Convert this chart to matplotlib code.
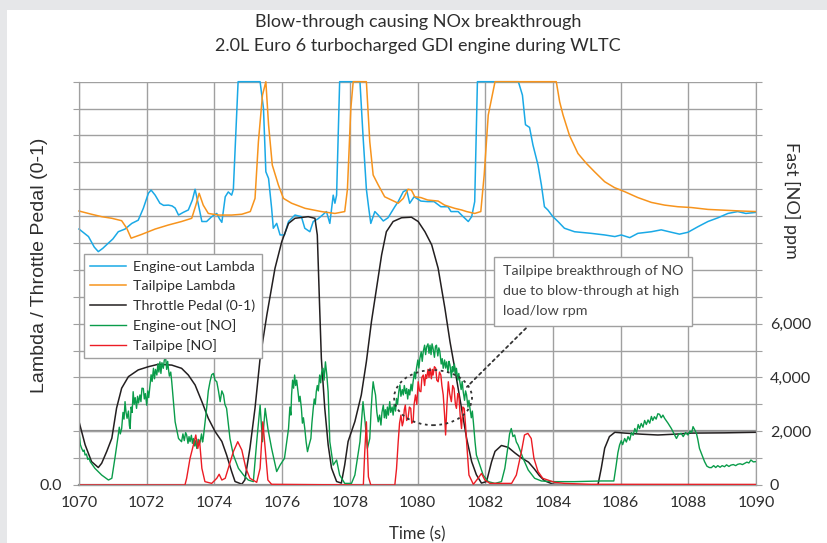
import matplotlib
matplotlib.use('Agg')
import matplotlib.pyplot as plt
from matplotlib.patches import Ellipse, Rectangle

# Engine-out lambda (left axis)
t_eo_lambda = [1070.00, 1070.28, 1070.45, 1070.57, 1070.70, 1070.87, 1071.00, 1071.16, 1071.36, 1071.56,
               1071.75, 1071.90, 1072.05, 1072.13, 1072.25, 1072.39, 1072.50, 1072.64, 1072.75, 1072.84,
               1072.94, 1073.08, 1073.23, 1073.35, 1073.43, 1073.53, 1073.63, 1073.77, 1073.92, 1074.07,
               1074.15, 1074.22, 1074.32, 1074.41, 1074.51, 1074.56, 1074.70, 1075.35, 1075.45, 1075.52,
               1075.60, 1075.69, 1075.74, 1075.84, 1075.94, 1076.07, 1076.19, 1076.38, 1076.57, 1076.67,
               1076.82, 1076.92, 1077.06, 1077.20, 1077.31, 1077.41, 1077.51, 1077.56, 1077.61, 1077.70,
               1078.30, 1078.39, 1078.49, 1078.56, 1078.62, 1078.74, 1078.84, 1078.99, 1079.13, 1079.33,
               1079.43, 1079.58, 1079.68, 1079.77, 1079.90, 1080.10, 1080.30, 1080.49, 1080.69, 1080.90,
               1080.99, 1081.20, 1081.35, 1081.50, 1081.60, 1081.69, 1081.77, 1082.98, 1083.10, 1083.19,
               1083.31, 1083.41, 1083.56, 1083.66, 1083.75, 1083.85, 1084.00, 1084.15, 1084.34, 1084.64,
               1085.13, 1085.53, 1085.83, 1086.02, 1086.27, 1086.51, 1086.91, 1087.20, 1087.50, 1087.74,
               1087.99, 1088.29, 1088.58, 1088.88, 1089.17, 1089.46, 1089.70, 1090.00]
eo_lambda = [0.952, 0.924, 0.885, 0.868, 0.880, 0.900, 0.915, 0.942, 0.952, 0.973,
             0.985, 1.029, 1.085, 1.097, 1.078, 1.048, 1.040, 1.041, 1.038, 1.030,
             1.004, 1.014, 1.023, 1.060, 1.100, 1.041, 0.980, 0.980, 0.998, 1.010,
             0.990, 0.977, 1.072, 1.090, 1.078, 1.100, 1.500, 1.500, 1.400, 1.165,
             1.140, 1.030, 0.955, 0.973, 0.930, 0.930, 0.980, 1.004, 0.998, 0.955,
             0.942, 0.980, 0.990, 1.005, 1.017, 0.973, 1.078, 1.048, 1.078, 1.500,
             1.500, 1.300, 1.100, 1.029, 0.973, 1.017, 1.004, 0.982, 0.994, 1.035,
             1.054, 1.091, 1.097, 1.048, 1.072, 1.056, 1.054, 1.054, 1.035, 1.035,
             1.017, 1.017, 0.998, 0.980, 0.998, 1.054, 1.500, 1.500, 1.450, 1.340,
             1.330, 1.265, 1.190, 1.116, 1.035, 1.023, 0.998, 0.980, 0.955, 0.942,
             0.936, 0.930, 0.924, 0.930, 0.920, 0.936, 0.942, 0.949, 0.940, 0.933,
             0.940, 0.961, 0.980, 0.994, 1.010, 1.017, 1.010, 1.014]

# Tailpipe lambda (left axis)
t_tp_lambda = [1070.00, 1070.37, 1070.67, 1070.97, 1071.26, 1071.41, 1071.54, 1071.85, 1072.25, 1072.64,
               1073.03, 1073.33, 1073.45, 1073.55, 1073.67, 1073.82, 1074.12, 1074.51, 1074.81, 1075.06,
               1075.20, 1075.30, 1075.42, 1075.52, 1075.60, 1075.71, 1075.89, 1076.04, 1076.28, 1076.68,
               1077.16, 1077.56, 1077.85, 1077.93, 1078.03, 1078.10, 1078.49, 1078.59, 1078.69, 1078.84,
               1079.03, 1079.23, 1079.43, 1079.58, 1079.72, 1079.82, 1079.92, 1080.10, 1080.30, 1080.61,
               1080.80, 1081.10, 1081.30, 1081.45, 1081.69, 1081.87, 1081.97, 1082.09, 1082.29, 1084.10,
               1084.20, 1084.30, 1084.49, 1084.74, 1084.99, 1085.23, 1085.53, 1085.82, 1086.12, 1086.51,
               1086.91, 1087.30, 1087.69, 1088.09, 1088.58, 1089.07, 1089.56, 1090.00]
tp_lambda = [1.019, 1.007, 0.998, 0.992, 0.983, 0.955, 0.918, 0.932, 0.952, 0.967,
             0.980, 0.992, 1.040, 1.085, 1.041, 1.010, 1.004, 1.004, 1.007, 1.017,
             1.066, 1.277, 1.450, 1.500, 1.340, 1.190, 1.116, 1.066, 1.048, 1.029,
             1.017, 1.010, 1.017, 1.100, 1.400, 1.500, 1.500, 1.277, 1.153, 1.116,
             1.072, 1.060, 1.048, 1.066, 1.100, 1.097, 1.072, 1.069, 1.060, 1.056,
             1.041, 1.029, 1.023, 1.017, 1.010, 1.017, 1.153, 1.376, 1.500, 1.500,
             1.425, 1.376, 1.300, 1.233, 1.196, 1.165, 1.128, 1.106, 1.091, 1.069,
             1.051, 1.041, 1.035, 1.032, 1.025, 1.022, 1.019, 1.017]

# Throttle pedal 0-1 (left axis)
t_throttle = [1070.00, 1070.18, 1070.37, 1070.57, 1070.67, 1070.82, 1070.97, 1071.11, 1071.26, 1071.46,
              1071.75, 1072.05, 1072.34, 1072.74, 1073.03, 1073.23, 1073.43, 1073.63, 1073.82, 1074.02,
              1074.22, 1074.36, 1074.51, 1074.61, 1074.81, 1074.90, 1075.05, 1075.20, 1075.35, 1075.55,
              1075.79, 1075.99, 1076.19, 1076.38, 1076.77, 1076.97, 1077.04, 1077.11, 1077.16, 1077.26,
              1077.36, 1077.46, 1077.61, 1077.75, 1077.85, 1077.95, 1078.15, 1078.34, 1078.49, 1078.64,
              1078.79, 1078.94, 1079.08, 1079.28, 1079.53, 1079.82, 1080.02, 1080.22, 1080.42, 1080.61,
              1080.81, 1080.96, 1081.10, 1081.30, 1081.45, 1081.60, 1081.74, 1081.89, 1082.04, 1082.19,
              1082.29, 1082.48, 1082.68, 1082.88, 1083.08, 1083.28, 1083.45, 1083.60, 1083.75, 1084.00,
              1084.64, 1085.33, 1085.43, 1085.53, 1085.67, 1085.83, 1086.13, 1086.62, 1087.10, 1087.60,
              1088.09, 1089.07, 1090.00]
throttle = [0.236, 0.150, 0.087, 0.065, 0.081, 0.125, 0.174, 0.286, 0.360, 0.403,
            0.428, 0.440, 0.449, 0.446, 0.434, 0.409, 0.372, 0.310, 0.248, 0.199,
            0.162, 0.112, 0.050, 0.013, 0.003, 0.019, 0.137, 0.286, 0.471, 0.633,
            0.806, 0.905, 0.973, 0.992, 0.998, 0.992, 0.930, 0.657, 0.471, 0.286,
            0.150, 0.063, 0.013, 0.007, 0.075, 0.162, 0.236, 0.335, 0.459, 0.608,
            0.732, 0.856, 0.942, 0.980, 0.994, 0.996, 0.980, 0.942, 0.893, 0.806,
            0.657, 0.533, 0.434, 0.286, 0.174, 0.087, 0.038, 0.007, 0.013, 0.087,
            0.125, 0.147, 0.140, 0.119, 0.100, 0.085, 0.060, 0.035, 0.016, 0.003,
            0.000, 0.000, 0.063, 0.137, 0.180, 0.196, 0.193, 0.189, 0.186, 0.189,
            0.193, 0.194, 0.196]

# Engine-out [NO] ppm (right axis)
t_eo_no = [1070.00, 1070.04, 1070.08, 1070.12, 1070.15, 1070.18, 1070.22, 1070.26, 1070.30, 1070.33,
           1070.47, 1070.67, 1070.87, 1070.97, 1071.06, 1071.16, 1071.19, 1071.22, 1071.26, 1071.30,
           1071.33, 1071.36, 1071.39, 1071.42, 1071.46, 1071.49, 1071.51, 1071.54, 1071.57, 1071.60,
           1071.63, 1071.66, 1071.70, 1071.73, 1071.76, 1071.80, 1071.83, 1071.86, 1071.90, 1071.93,
           1071.96, 1072.00, 1072.03, 1072.06, 1072.10, 1072.13, 1072.16, 1072.20, 1072.23, 1072.26,
           1072.30, 1072.33, 1072.36, 1072.39, 1072.42, 1072.45, 1072.49, 1072.52, 1072.56, 1072.59,
           1072.62, 1072.64, 1072.67, 1072.71, 1072.74, 1072.79, 1072.84, 1072.94, 1073.03, 1073.07,
           1073.11, 1073.15, 1073.18, 1073.22, 1073.25, 1073.28, 1073.32, 1073.35, 1073.38, 1073.42,
           1073.45, 1073.48, 1073.52, 1073.55, 1073.58, 1073.62, 1073.65, 1073.67, 1073.72, 1073.77,
           1073.82, 1073.87, 1073.92, 1073.97, 1074.02, 1074.07, 1074.12, 1074.17, 1074.22, 1074.27,
           1074.31, 1074.36, 1074.46, 1074.56, 1074.71, 1074.86, 1075.00, 1075.15, 1075.25, 1075.35,
           1075.42, 1075.50, 1075.58, 1075.69, 1075.84, 1075.94, 1076.07, 1076.19, 1076.23, 1076.26,
           1076.28, 1076.31, 1076.34, 1076.37, 1076.40, 1076.43, 1076.47, 1076.50, 1076.53, 1076.57,
           1076.60, 1076.63, 1076.67, 1076.71, 1076.75, 1076.80, 1076.85, 1076.88, 1076.92, 1076.95,
           1076.98, 1077.01, 1077.04, 1077.07, 1077.11, 1077.14, 1077.17, 1077.21, 1077.24, 1077.28,
           1077.32, 1077.36, 1077.41, 1077.51, 1077.61, 1077.70, 1077.85, 1078.05, 1078.15, 1078.30,
           1078.39, 1078.46, 1078.52, 1078.59, 1078.63, 1078.66, 1078.69, 1078.72, 1078.76, 1078.80,
           1078.84, 1078.88, 1078.92, 1078.95, 1078.99, 1079.02, 1079.05, 1079.08, 1079.11, 1079.14,
           1079.18, 1079.21, 1079.25, 1079.28, 1079.31, 1079.35, 1079.38, 1079.41, 1079.45, 1079.48,
           1079.51, 1079.55, 1079.58, 1079.61, 1079.65, 1079.68, 1079.71, 1079.74, 1079.77, 1079.81,
           1079.84, 1079.87, 1079.91, 1079.94, 1079.97, 1080.01, 1080.04, 1080.07, 1080.11, 1080.14,
           1080.17, 1080.21, 1080.24, 1080.27, 1080.31, 1080.34, 1080.37, 1080.40, 1080.43, 1080.46,
           1080.50, 1080.53, 1080.56, 1080.60, 1080.63, 1080.66, 1080.70, 1080.73, 1080.76, 1080.80,
           1080.83, 1080.86, 1080.90, 1080.93, 1080.96, 1081.00, 1081.03, 1081.05, 1081.09, 1081.12,
           1081.15, 1081.19, 1081.22, 1081.25, 1081.29, 1081.32, 1081.35, 1081.39, 1081.42, 1081.45,
           1081.49, 1081.52, 1081.55, 1081.59, 1081.62, 1081.65, 1081.70, 1081.74, 1081.84, 1081.94,
           1082.09, 1082.29, 1082.48, 1082.58, 1082.68, 1082.72, 1082.77, 1082.82, 1082.87, 1082.92,
           1082.97, 1083.12, 1083.27, 1083.46, 1083.66, 1084.00, 1084.64, 1085.43, 1085.80, 1085.87,
           1085.92, 1085.97, 1086.02, 1086.06, 1086.12, 1086.17, 1086.22, 1086.27, 1086.32, 1086.37,
           1086.42, 1086.47, 1086.52, 1086.56, 1086.61, 1086.66, 1086.71, 1086.76, 1086.81, 1086.86,
           1086.91, 1086.95, 1087.00, 1087.05, 1087.10, 1087.15, 1087.20, 1087.25, 1087.30, 1087.40,
           1087.50, 1087.58, 1087.65, 1087.72, 1087.79, 1087.85, 1087.92, 1087.99, 1088.05, 1088.10,
           1088.14, 1088.19, 1088.24, 1088.28, 1088.33, 1088.48, 1088.55, 1088.62, 1088.68, 1088.75,
           1088.81, 1088.87, 1088.94, 1089.00, 1089.07, 1089.13, 1089.20, 1089.26, 1089.33, 1089.40,
           1089.46, 1089.53, 1089.60, 1089.66, 1089.73, 1089.79, 1089.85, 1089.92, 1090.00]
eo_no = [1980, 1500, 1360, 1250, 1300, 1115, 1150, 950, 1000, 870,
         620, 370, 185, 250, 990, 1860, 2150, 1900, 2100, 2700,
         2450, 3100, 2700, 2480, 2750, 2200, 2100, 2900, 2700, 3470,
         3000, 3250, 2850, 3300, 3050, 3350, 3100, 3600, 3590, 3200,
         3400, 2970, 3500, 3250, 3720, 4100, 3850, 4340, 3950, 4300,
         4090, 4500, 4200, 4580, 4150, 4550, 4340, 4650, 4730, 4300,
         4600, 4340, 4050, 4200, 3840, 3100, 2350, 1730, 1610, 1900,
         1650, 1950, 1860, 1550, 1800, 1610, 1850, 1550, 1730, 1450,
         1650, 1360, 1700, 1500, 1610, 1900, 1600, 1730, 2300, 2850,
         3500, 3840, 4100, 4150, 3900, 3840, 3500, 3100, 3500, 3350,
         3000, 2850, 1730, 1115, 620, 370, 185, 125, 1610, 2970,
         1610, 2850, 2100, 1360, 500, 740, 990, 2100, 2900, 2600,
         3350, 3900, 3600, 4090, 3700, 3900, 3470, 3100, 3300, 2850,
         2300, 2500, 2100, 1600, 1240, 1500, 1730, 2300, 2850, 3200,
         3000, 3470, 3700, 3500, 4090, 3800, 4200, 4340, 3900, 4580,
         4100, 3470, 1610, 740, 930, 370, 60, 60, 370, 1610,
         3100, 2230, 1360, 1730, 2800, 3400, 3840, 3600, 3350, 2700,
         2350, 2600, 2230, 2700, 2970, 2500, 2800, 2480, 2900, 2600,
         3100, 2700, 2900, 2600, 3000, 2750, 3220, 3000, 3500, 3720,
         3300, 3550, 3350, 3700, 3400, 3590, 3200, 3550, 3350, 3750,
         3500, 3840, 4200, 3950, 4340, 4650, 4350, 4710, 4950, 4600,
         4960, 5200, 4850, 5140, 5250, 4900, 5200, 4850, 5250, 5080,
         4750, 5150, 5200, 4800, 5100, 4960, 4500, 4700, 4340, 4650,
         4350, 4580, 4200, 4600, 4460, 4000, 4400, 4210, 4500, 4100,
         4340, 3900, 4150, 3840, 3550, 3850, 3470, 3150, 3500, 3350,
         2900, 3150, 2850, 2500, 2750, 2350, 1600, 1115, 740, 370,
         125, 60, 125, 620, 1490, 1900, 2100, 1800, 1860, 1600,
         1490, 990, 560, 250, 150, 125, 125, 150, 150, 740,
         1200, 1490, 1650, 1500, 1730, 1600, 1800, 1670, 1950, 1850,
         2100, 1950, 2250, 2100, 2290, 2150, 2400, 2250, 2420, 2300,
         2550, 2400, 2540, 2450, 2650, 2630, 2500, 2600, 2480, 2300,
         2100, 1900, 1730, 1900, 1920, 1800, 1950, 1860, 2000, 1950,
         2170, 2050, 1920, 1700, 1360, 870, 700, 650, 645, 720,
         650, 720, 660, 720, 680, 750, 690, 740, 760, 720,
         770, 790, 760, 800, 850, 820, 930, 860, 870]

# Tailpipe [NO] ppm (right axis)
t_tp_no = [1070.00, 1073.13, 1073.18, 1073.28, 1073.38, 1073.45, 1073.51, 1073.56, 1073.63, 1073.72,
           1073.92, 1074.07, 1074.14, 1074.22, 1074.32, 1074.41, 1074.56, 1074.69, 1074.81, 1074.93,
           1075.05, 1075.25, 1075.35, 1075.43, 1075.50, 1075.58, 1075.69, 1078.40, 1078.44, 1078.49,
           1078.55, 1078.62, 1079.33, 1079.38, 1079.43, 1079.47, 1079.51, 1079.55, 1079.58, 1079.61,
           1079.64, 1079.68, 1079.72, 1079.76, 1079.80, 1079.83, 1079.87, 1079.90, 1079.94, 1079.98,
           1080.02, 1080.06, 1080.10, 1080.13, 1080.17, 1080.21, 1080.24, 1080.27, 1080.31, 1080.34,
           1080.37, 1080.41, 1080.44, 1080.46, 1080.50, 1080.54, 1080.57, 1080.61, 1080.65, 1080.69,
           1080.72, 1080.76, 1080.80, 1080.83, 1080.87, 1080.91, 1080.95, 1081.00, 1081.04, 1081.08,
           1081.12, 1081.15, 1081.19, 1081.22, 1081.26, 1081.30, 1081.34, 1081.38, 1081.42, 1081.45,
           1081.49, 1081.52, 1081.65, 1081.79, 1081.89, 1081.99, 1082.14, 1082.78, 1082.92, 1083.07,
           1083.16, 1083.26, 1083.36, 1083.44, 1083.56, 1083.70, 1083.85, 1084.05, 1084.34, 1085.13,
           1090.00]
tp_no = [0, 0, 250, 990, 1490, 1860, 1360, 1670, 620, 125,
         60, 250, 400, 185, 250, 620, 1240, 1610, 1300, 620,
         250, 100, 620, 2350, 1360, 185, 25, 0, 1200, 2350,
         300, 0, 0, 600, 1610, 2300, 2600, 2200, 2350, 2800,
         2970, 2400, 2480, 2900, 2850, 2300, 2350, 3000, 3350, 3000,
         3840, 3500, 3470, 4000, 4090, 3700, 4100, 3960, 4300, 4000,
         4340, 3950, 4300, 4090, 4400, 4340, 3900, 3840, 4200, 4090,
         3700, 3350, 2600, 1860, 3000, 3840, 3400, 3100, 3700, 3590,
         3000, 2850, 3400, 3350, 2600, 2100, 2900, 2850, 2200, 1610,
         900, 370, 25, 250, 430, 185, 60, 60, 370, 1240,
         1860, 1920, 1730, 990, 500, 250, 185, 100, 60, 25,
         20]

x_ticks = list(range(1070, 1091, 2))
left_ticks = [i / 10 for i in range(16)]
left_labels = ['0.0'] + [''] * 15
right_ticks = list(range(0, 15001, 1000))
right_labels = ['0', '', '2,000', '', '4,000', '', '6,000'] + [''] * 9

BLUE = '#1aa9e6'
ORANGE = '#f7941d'
BLACK = '#231f20'
GREEN = '#0a9c4a'
RED = '#ec1c24'
GRID = '#a0a0a0'
TXT = '#2e2e2e'

plt.rcParams['font.family'] = ['Lato', 'DejaVu Sans']

fig = plt.figure(figsize=(8.28, 5.43), dpi=100, facecolor='#e6e7e9')
fig.patches.append(Rectangle((7 / 828, 0), 1, 533 / 543, transform=fig.transFigure,
                             facecolor='white', edgecolor='none', zorder=-10))

ax = fig.add_axes([79 / 828, 58 / 543, 677 / 828, 403.3 / 543])
ax.set_facecolor('none')
ax2 = ax.twinx()

l1, = ax.plot(t_eo_lambda, eo_lambda, color=BLUE, lw=1.1, clip_on=False, label='Engine-out Lambda')
l2, = ax.plot(t_tp_lambda, tp_lambda, color=ORANGE, lw=1.1, clip_on=False, label='Tailpipe Lambda')
l3, = ax.plot(t_throttle, throttle, color=BLACK, lw=1.1, label='Throttle Pedal (0-1)')
l4, = ax2.plot(t_eo_no, eo_no, color=GREEN, lw=1.0, label='Engine-out [NO]')
l5, = ax2.plot(t_tp_no, tp_no, color=RED, lw=1.0, label='Tailpipe [NO]')

ax.set_xlim(1070, 1090)
ax.set_ylim(0, 1.5)
ax2.set_ylim(0, 15000)

ax.set_xticks(x_ticks)
ax.set_yticks(left_ticks)
ax.set_yticklabels(left_labels)
ax2.set_yticks(right_ticks)
ax2.set_yticklabels(right_labels)

ax.grid(True, color=GRID, lw=1)
ax.set_axisbelow(True)
ax.axhline(0.2, color='#8c8c8c', lw=1.6, zorder=0.5)

for a in (ax, ax2):
    for s in a.spines.values():
        s.set_color(GRID)
    a.spines['top'].set_visible(False)
ax.spines['bottom'].set_color('#8c8c8c')
ax.spines['bottom'].set_linewidth(1.6)

ax.tick_params(axis='x', colors=GRID, labelcolor=TXT, labelsize=11.5, length=0, pad=8)
ax.tick_params(axis='y', colors=GRID, labelcolor=TXT, labelsize=11.5, length=4, pad=8)
ax2.tick_params(axis='y', colors=GRID, labelcolor=TXT, labelsize=11.5, length=4, pad=6)

ax.set_xlabel('Time (s)', fontsize=12, color=TXT, labelpad=12)
fig.text(40 / 828, 1 - 265 / 543, 'Lambda / Throttle Pedal (0-1)', rotation=90, fontsize=14,
         family='Liberation Sans', color=TXT, ha='center', va='center')
fig.text(792 / 828, 1 - 200 / 543, 'Fast [NO] ppm', rotation=-90, fontsize=13,
         color=TXT, ha='center', va='center')

fig.text(0.505, 1 - 22 / 543, 'Blow-through causing NOx breakthrough', fontsize=13,
         color=TXT, ha='center', va='center')
fig.text(0.505, 1 - 46 / 543, '2.0L Euro 6 turbocharged GDI engine during WLTC', fontsize=13,
         color=TXT, ha='center', va='center')

leg = ax2.legend(handles=[l1, l2, l3, l4, l5], loc='upper left', bbox_to_anchor=(0.007, 0.572),
                 fontsize=10.3, frameon=True, fancybox=False, borderpad=0.45, labelspacing=0.5,
                 handlelength=2.5, handletextpad=0.5, borderaxespad=0)
leg.get_frame().set_edgecolor('#a0a0a0')
leg.get_frame().set_linewidth(1)
leg.get_frame().set_alpha(1)
for t in leg.get_texts():
    t.set_color(TXT)

# dotted ellipse around the tailpipe breakthrough
ax2.add_patch(Ellipse((1080.46, 3250), 2.3, 2050, fill=False, ls=(0, (1.5, 2)), lw=1.3,
                      color='#333333', zorder=5))
ax2.annotate('Tailpipe breakthrough of NO\ndue to blow-through at high\nload/low rpm',
             xy=(1081.46, 3650), xytext=(0.626, 0.545), textcoords='axes fraction',
             fontsize=10.3, color='#444444', linespacing=1.8, va='top', ha='left',
             bbox=dict(boxstyle='square,pad=0.6', fc='white', ec='#a0a0a0', lw=1),
             arrowprops=dict(arrowstyle='-', ls=(0, (1.5, 2)), lw=1.3, color='#333333',
                             relpos=(0.19, 0), shrinkA=2, shrinkB=0))

fig.savefig('out.png', dpi=100, facecolor=fig.get_facecolor())
